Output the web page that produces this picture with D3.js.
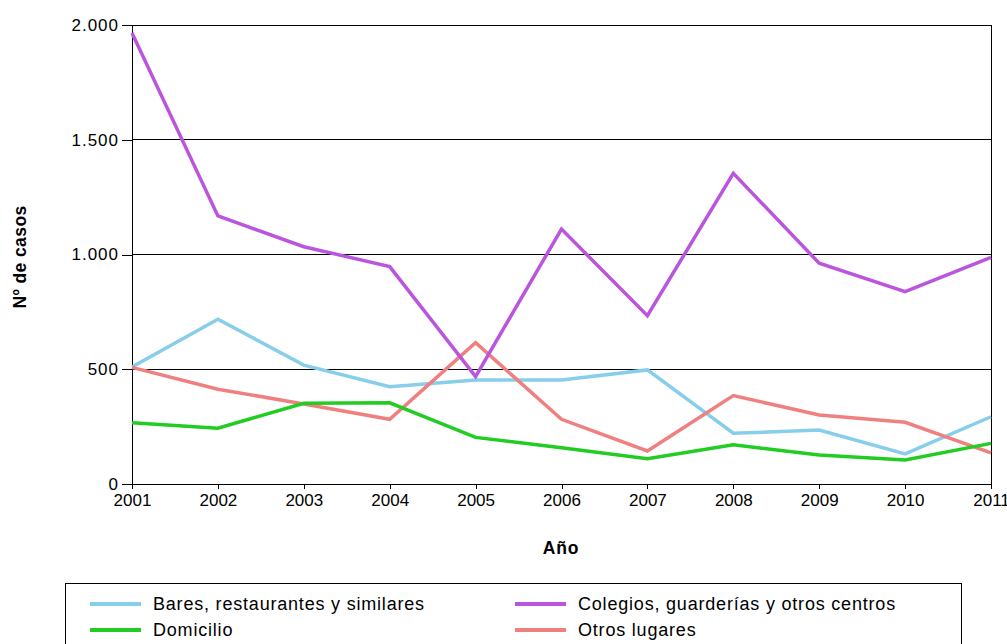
<!DOCTYPE html>
<html><head><meta charset="utf-8">
<script src="https://cdn.jsdelivr.net/npm/d3@7"></script>
<style>body{margin:0;background:#fff}svg{display:block}text{font-family:"Liberation Sans",Arial,sans-serif;fill:#000}</style>
</head><body><svg id="c" width="1007" height="644"></svg>
<script>
const years = [2001,2002,2003,2004,2005,2006,2007,2008,2009,2010,2011];
const seriesNames = ["Bares, restaurantes y similares","Colegios, guarderías y otros centros","Domicilio","Otros lugares"];
const bares    = [510,718,518,424,453,453,497,221,235,131,293];
const colegios = [1965,1168,1034,947,468,1111,733,1354,962,838,988];
const domicilio= [267,243,352,354,203,158,110,171,126,105,177];
const otros    = [508,413,349,282,616,282,144,385,301,269,136];
const yTicks = [0,500,1000,1500,2000];
const colors = ["#87CEEB","#BB55DD","#22CC22","#F08080"];
const values = [bares,colegios,domicilio,otros];

const svg = d3.select("#c");
const L=132,R=991,T=25,B=484;
const x = d3.scalePoint().domain(years).range([L,R]);
const y = d3.scaleLinear().domain([0,2000]).range([B,T]);
const fmt = v => d3.format(",")(v).replace(/,/g,".");

// gridlines
svg.append("g").selectAll("line").data(yTicks.filter(d=>d>0)).join("line")
  .attr("x1",L).attr("x2",R).attr("y1",d=>y(d)).attr("y2",d=>y(d))
  .attr("stroke","#000").attr("stroke-width",1).attr("shape-rendering","crispEdges");
// right border
svg.append("line").attr("x1",R).attr("x2",R).attr("y1",T).attr("y2",B)
  .attr("stroke","#000").attr("shape-rendering","crispEdges");

const yAxis = svg.append("g").attr("transform",`translate(${L},0)`)
  .call(d3.axisLeft(y).tickValues(yTicks).tickFormat(fmt).tickSize(10).tickPadding(4));
const xAxis = svg.append("g").attr("transform",`translate(0,${B})`)
  .call(d3.axisBottom(x).tickSize(5).tickPadding(5));
[yAxis,xAxis].forEach(a=>{
  a.select(".domain").attr("stroke","#000").attr("shape-rendering","crispEdges");
  a.selectAll(".tick line").attr("stroke","#000").attr("shape-rendering","crispEdges");
  a.selectAll("text").attr("font-size",17).attr("fill","#000").attr("font-family","Liberation Sans, Arial, sans-serif");
});
yAxis.selectAll("text").attr("letter-spacing",1).attr("dx",1);

const line = d3.line().x((d,i)=>x(years[i])).y(d=>y(d));
const order=[0,3,2,1];
order.forEach(k=>{
  svg.append("path").datum(values[k]).attr("d",line).attr("fill","none")
    .attr("stroke",colors[k]).attr("stroke-width",3.5).attr("stroke-linejoin","miter");
});

svg.append("text").attr("transform","translate(26,257) rotate(-90)").attr("text-anchor","middle")
  .attr("font-size",17.5).attr("font-weight","bold").attr("letter-spacing",0.4).text("Nº de casos");
svg.append("text").attr("x",561).attr("y",554).attr("text-anchor","middle")
  .attr("font-size",17.5).attr("font-weight","bold").attr("letter-spacing",0.8).text("Año");

// legend
svg.append("rect").attr("x",65.5).attr("y",583.5).attr("width",896).attr("height",80)
  .attr("fill","none").attr("stroke","#000").attr("stroke-width",1);
const legPos=[[90,604],[515,604],[90,630],[515,630]];
const legIdx=[0,1,2,3];
legIdx.forEach((k,i)=>{
  const [lx,ly]=legPos[i];
  svg.append("line").attr("x1",lx).attr("x2",lx+51).attr("y1",ly).attr("y2",ly)
    .attr("stroke",colors[k]).attr("stroke-width",4);
  svg.append("text").attr("x",lx+63).attr("y",ly+6).attr("font-size",18).attr("letter-spacing",0.8).text(seriesNames[k]);
});
</script></body></html>
